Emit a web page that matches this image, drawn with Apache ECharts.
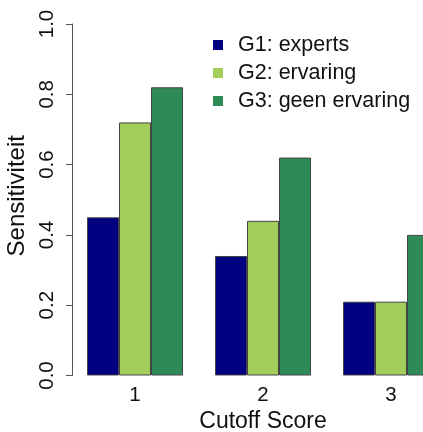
<!DOCTYPE html>
<html>
<head>
<meta charset="utf-8">
<script src="https://cdn.jsdelivr.net/npm/echarts@6/dist/echarts.min.js"></script>
<style>html,body{margin:0;padding:0;background:#fff;}#c{width:423px;height:432px;}</style>
</head>
<body>
<div id="c"></div>
<script>
var categories = ['1', '2', '3'];
var seriesNames = ['G1: experts', 'G2: ervaring', 'G3: geen ervaring'];
var g1Values = [0.45, 0.34, 0.21];
var g2Values = [0.72, 0.44, 0.21];
var g3Values = [0.82, 0.62, 0.40];
var yTicks = [0, 0.2, 0.4, 0.6, 0.8, 1.0];
var colors = ['#000080', '#A2CD5A', '#2E8B57'];

var FONT = 'Liberation Sans, Arial, sans-serif';
var chart = echarts.init(document.getElementById('c'), null, {renderer: 'canvas'});
var values = [g1Values, g2Values, g3Values];
chart.setOption({
  animation: false,
  backgroundColor: '#ffffff',
  textStyle: {fontFamily: FONT},
  grid: {left: 71, top: 24, right: -32, bottom: 56.5, containLabel: false, outerBoundsMode: 'none'},
  legend: {
    orient: 'vertical', left: 208, top: 29,
    itemWidth: 10, itemHeight: 10, itemGap: 6,
    icon: 'rect',
    itemStyle: {borderWidth: 0},
    textStyle: {fontSize: 21.5, color: '#111', fontFamily: FONT, padding: [0, 0, 0, 10]},
    data: seriesNames
  },
  xAxis: {
    type: 'category', data: categories,
    axisLine: {show: false}, axisTick: {show: false},
    axisLabel: {fontSize: 20.5, color: '#111', margin: 9, fontFamily: FONT},
    name: 'Cutoff Score', nameLocation: 'middle', nameGap: 33,
    nameTextStyle: {fontSize: 23, color: '#111', fontFamily: FONT}
  },
  yAxis: {
    type: 'value', min: 0, max: 1, interval: 0.2, offset: -1,
    splitLine: {show: false},
    axisLine: {show: true, lineStyle: {color: '#555', width: 1}},
    axisTick: {show: true, length: 6, lineStyle: {color: '#555'}},
    axisLabel: {fontSize: 20.5, color: '#111', rotate: 90, margin: 14, fontFamily: FONT,
      formatter: function (v) { return v.toFixed(1); }},
    name: 'Sensitiviteit', nameLocation: 'middle', nameGap: 36, nameRotate: 90,
    nameTextStyle: {fontSize: 24, color: '#111', fontFamily: FONT, padding: [0, 0, 0, 8]}
  },
  series: seriesNames.map(function (n, i) {
    return {
      name: n, type: 'bar', data: values[i], barWidth: 32, barGap: '0%',
      itemStyle: {color: colors[i], borderColor: '#444', borderWidth: 1}
    };
  })
});
</script>
</body>
</html>
